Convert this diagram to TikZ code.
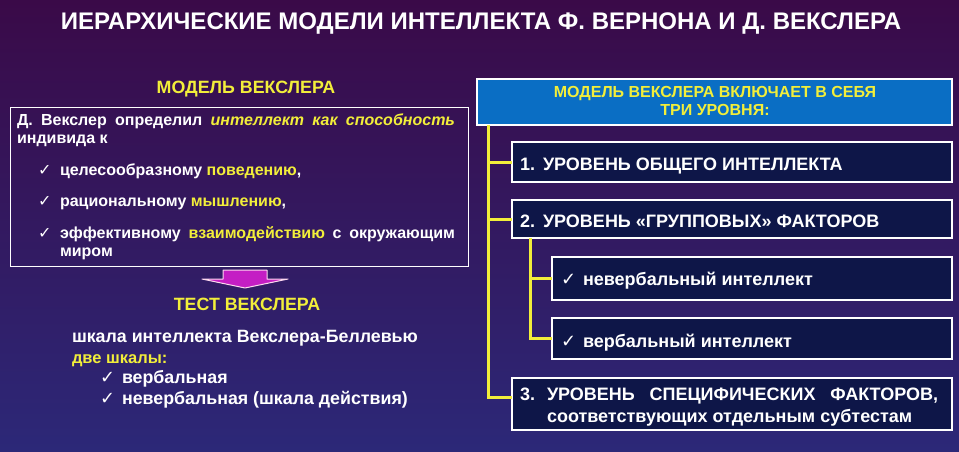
\documentclass[tikz,border=0pt]{standalone}
\usepackage{fontspec}
\setmainfont{Liberation Sans}
\newfontfamily\symfont{DejaVu Sans}
\definecolor{bgtop}{HTML}{3A0A48}
\definecolor{bgmid}{HTML}{42125F}
\definecolor{bgbot}{HTML}{2C2878}
\definecolor{yel}{HTML}{F2EE3A}
\definecolor{navy}{HTML}{0E1648}
\definecolor{hdrblue}{HTML}{0A6EC4}
\definecolor{magarrow}{HTML}{C41EC4}
\newcommand\myfs[1]{\fontsize{#1}{#1}\selectfont}
\newcommand\chk{{\symfont\mdseries ✓}}
\begin{document}
\begin{tikzpicture}[x=1pt,y=-1pt,
  txt/.style={inner sep=0pt, outer sep=0pt, text=white, anchor=base west},
  ltxt/.style={txt, font=\bfseries\myfs{16}},
  btxt/.style={txt, font=\bfseries\myfs{17.8}},
  rtxt/.style={txt, font=\bfseries\myfs{18}},
  ytxt/.style={inner sep=0pt, outer sep=0pt, text=yel, anchor=base},
  box/.style={draw=white, line width=1.6pt, fill=navy, anchor=north west, inner sep=0pt, outer sep=0pt},
  conn/.style={draw=yel, line width=3pt}]
\shade[top color=bgtop, middle color=bgmid, bottom color=bgbot] (0,0) rectangle (959,451);
\useasboundingbox (0,0) rectangle (959,451);
% title
\node[anchor=base, inner sep=0pt, text=white, font=\bfseries\myfs{24}] (title) at (481,29)
  {ИЕРАРХИЧЕСКИЕ МОДЕЛИ ИНТЕЛЛЕКТА Ф. ВЕРНОНА И Д. ВЕКСЛЕРА};
% left part
\node[ytxt, font=\bfseries\myfs{17.8}] (lhead) at (246,93) {МОДЕЛЬ ВЕКСЛЕРА};
\node[draw=white, line width=1.1pt, anchor=north west, minimum width=458pt, minimum height=159pt, inner sep=0pt] (lbox) at (10,107) {};
\node[ltxt] (l1) at (17,125) {\makebox[438pt][s]{Д. Векслер определил \textcolor{yel}{\itshape интеллект как способность}}};
\node[ltxt] (l2) at (17,143) {индивида к};
\node[ltxt] (c1) at (38,175) {\chk};
\node[ltxt] (i1) at (60,175) {целесообразному \textcolor{yel}{поведению},};
\node[ltxt] (c2) at (38,206) {\chk};
\node[ltxt] (i2) at (60,206) {рациональному \textcolor{yel}{мышлению},};
\node[ltxt] (c3) at (38,238) {\chk};
\node[ltxt] (i3) at (60,238) {\makebox[395pt][s]{эффективному \textcolor{yel}{взаимодействию} с окружающим}};
\node[ltxt] (i3b) at (60,256) {миром};
% arrow
\draw[fill=magarrow, draw=white!85!magenta, line width=1pt, line join=round]
  (223,270) -- (267,270) -- (267,279) -- (288,279) -- (245,288) -- (202,279) -- (223,279) -- cycle;
\node[ytxt, font=\bfseries\myfs{17.8}] (thead) at (247,310) {ТЕСТ ВЕКСЛЕРА};
\node[btxt] (s1) at (72,342) {шкала интеллекта Векслера-Беллевью};
\node[txt, text=yel, font=\bfseries\myfs{16.5}] (s2) at (72,363) {две шкалы:};
\node[btxt] (sc1) at (100,383) {\chk};
\node[btxt] (s3) at (122,383) {вербальная};
\node[btxt] (sc2) at (100,404) {\chk};
\node[btxt] (s4) at (122,404) {невербальная (шкала действия)};
% right part
\node[box, fill=hdrblue, minimum width=475pt, minimum height=46pt] (hdr) at (477,79) {};
\node[ytxt, font=\bfseries\myfs{16}] (h1) at (715,97) {МОДЕЛЬ ВЕКСЛЕРА ВКЛЮЧАЕТ В СЕБЯ};
\node[ytxt, font=\bfseries\myfs{16}] (h2) at (715,115) {ТРИ УРОВНЯ:};
\node[box, minimum width=440pt, minimum height=40pt] (b1) at (512,142) {};
\node[box, minimum width=440pt, minimum height=38pt] (b2) at (512,200) {};
\node[box, minimum width=400pt, minimum height=43pt] (b2a) at (552,257) {};
\node[box, minimum width=400pt, minimum height=41pt] (b2b) at (552,318) {};
\node[box, minimum width=440pt, minimum height=52pt] (b3) at (512,378) {};
\node[rtxt] (t1) at (520,170) {1.\hspace{8pt}УРОВЕНЬ ОБЩЕГО ИНТЕЛЛЕКТА};
\node[rtxt] (t2) at (520,227) {2.\hspace{8pt}УРОВЕНЬ «ГРУППОВЫХ» ФАКТОРОВ};
\node[rtxt] (t2ac) at (561,285) {\chk};
\node[rtxt] (t2a) at (583,285) {невербальный интеллект};
\node[rtxt] (t2bc) at (561,347) {\chk};
\node[rtxt] (t2b) at (583,347) {вербальный интеллект};
\node[rtxt] (t3n) at (520,400) {3.};
\node[rtxt] (t3a) at (547,400) {\makebox[391pt][s]{УРОВЕНЬ СПЕЦИФИЧЕСКИХ ФАКТОРОВ,}};
\node[rtxt] (t3b) at (547,422) {соответствующих отдельным субтестам};
% connectors
\coordinate (v1) at ([xshift=11pt]hdr.south west);
\coordinate (v2) at ([xshift=18pt]b2.south west);
\draw[conn] (v1) |- ([yshift=7pt]b3.west);
\draw[conn] (v1 |- b1.west) -- (b1.west);
\draw[conn] (v1 |- b2.west) -- (b2.west);
\draw[conn] (v2) |- (b2b.west);
\draw[conn] (v2 |- b2a.west) -- (b2a.west);
\end{tikzpicture}
\end{document}
